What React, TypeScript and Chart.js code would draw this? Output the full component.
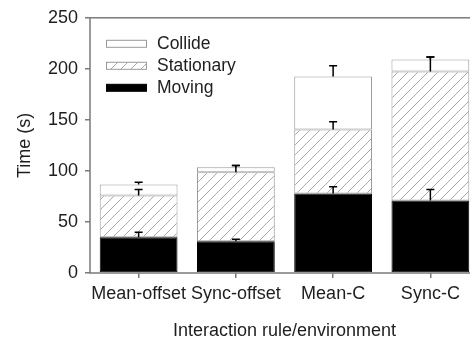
import React, { useEffect, useRef } from "react";
import { Chart, registerables } from "chart.js";

Chart.register(...registerables);

const categories = ["Mean-offset", "Sync-offset", "Mean-C", "Sync-C"];
const moving = [35, 31, 78, 71];
const movingErr = [4.8, 2, 6.4, 10.7];
const stationary = [41, 67.8, 62.6, 126.3];
const stationaryErr = [5.8, 6.5, 7.5, 14.2];
const collide = [10.6, 4.9, 52, 11.9];
const collideErr = [2.3, 1.5, 10.4, 2.3];
const yTicks = [0, 50, 100, 150, 200, 250];
const legendLabels = ["Collide", "Stationary", "Moving"];
const xTitle = "Interaction rule/environment";
const yTitle = "Time (s)";

const FONT = "'Liberation Sans', Arial, Helvetica, sans-serif";
const AXIS = "#7a7a7a";
const TEXT = "#1e1e1e";
const OUTLINE = "#9a9a9a";

function makeHatch(): CanvasPattern | string {
  const s = 10;
  const c = document.createElement("canvas");
  c.width = s;
  c.height = s;
  const g = c.getContext("2d");
  if (!g) return "#ddd";
  g.fillStyle = "#fff";
  g.fillRect(0, 0, s, s);
  g.strokeStyle = "#a8a8a8";
  g.lineWidth = 1;
  g.beginPath();
  g.moveTo(0, s);
  g.lineTo(s, 0);
  g.moveTo(-2, 2);
  g.lineTo(2, -2);
  g.moveTo(s - 2, s + 2);
  g.lineTo(s + 2, s - 2);
  g.stroke();
  return g.createPattern(c, "repeat") || "#ddd";
}

export default function App() {
  const ref = useRef<HTMLCanvasElement | null>(null);

  useEffect(() => {
    if (!ref.current) return;
    const hatch = makeHatch();
    const series = [moving, stationary, collide];
    const errs = [movingErr, stationaryErr, collideErr];
    const fills = ["#000", hatch, "#fff"];

    const framePlugin = {
      id: "frame",
      afterDatasetsDraw(chart: any) {
        const { ctx, chartArea: a } = chart;
        ctx.save();
        ctx.strokeStyle = AXIS;
        ctx.lineWidth = 1.5;
        ctx.strokeRect(a.left, a.top, a.right - a.left, a.bottom - a.top);
        ctx.restore();
      },
    };

    const errorPlugin = {
      id: "errbars",
      afterDatasetsDraw(chart: any) {
        const { ctx } = chart;
        const ys = chart.scales.y;
        ctx.save();
        ctx.strokeStyle = "#000";
        ctx.lineWidth = 1.5;
        series.forEach((_s, di) => {
          const meta = chart.getDatasetMeta(di);
          meta.data.forEach((bar: any, j: number) => {
            let cum = 0;
            for (let k = 0; k <= di; k++) cum += series[k][j];
            const yTop = ys.getPixelForValue(cum);
            const yE = ys.getPixelForValue(cum + errs[di][j]);
            const x = bar.x;
            ctx.beginPath();
            ctx.moveTo(x, yTop);
            ctx.lineTo(x, yE);
            ctx.moveTo(x - 4, yE);
            ctx.lineTo(x + 4, yE);
            ctx.stroke();
          });
        });
        ctx.restore();
      },
    };

    const legendPlugin = {
      id: "innerLegend",
      afterDraw(chart: any) {
        const { ctx, chartArea: a } = chart;
        const legendFills = [fills[2], fills[1], fills[0]];
        ctx.save();
        legendLabels.forEach((lab, i) => {
          const cy = a.top + 26 + i * 22;
          const bx = a.left + 16;
          ctx.fillStyle = legendFills[i] as any;
          ctx.fillRect(bx, cy - 3.5, 40, 7);
          ctx.strokeStyle = i === 2 ? "#000" : OUTLINE;
          ctx.lineWidth = 1;
          ctx.strokeRect(bx + 0.5, cy - 3.5, 40, 7);
          ctx.fillStyle = TEXT;
          ctx.font = `17.5px ${FONT}`;
          ctx.textBaseline = "middle";
          ctx.textAlign = "left";
          ctx.fillText(lab, bx + 51, cy);
        });
        ctx.restore();
      },
    };

    const chart = new Chart(ref.current, {
      type: "bar",
      data: {
        labels: categories,
        datasets: [
          {
            label: "Moving",
            data: moving,
            backgroundColor: fills[0] as any,
            borderColor: "#000",
            borderWidth: 1,
            borderSkipped: false,
            categoryPercentage: 1,
            barPercentage: 0.8,
          },
          {
            label: "Stationary",
            data: stationary,
            backgroundColor: fills[1] as any,
            borderColor: OUTLINE,
            borderWidth: 1,
            borderSkipped: false,
            categoryPercentage: 1,
            barPercentage: 0.8,
          },
          {
            label: "Collide",
            data: collide,
            backgroundColor: fills[2] as any,
            borderColor: OUTLINE,
            borderWidth: 1,
            borderSkipped: false,
            categoryPercentage: 1,
            barPercentage: 0.8,
          },
        ],
      },
      options: {
        responsive: false,
        animation: false,
        layout: { padding: { top: 15, right: 11, bottom: 0, left: 0 } },
        plugins: {
          legend: { display: false },
          tooltip: { enabled: false },
        },
        scales: {
          x: {
            stacked: true,
            grid: {
              display: true,
              drawOnChartArea: false,
              drawTicks: true,
              tickLength: 5,
              color: AXIS,
              offset: false,
              lineWidth: 1.5,
            },
            border: { display: false },
            ticks: {
              font: { family: FONT, size: 18 },
              color: TEXT,
              padding: 5,
              maxRotation: 0,
              autoSkip: false,
            },
            title: {
              display: true,
              text: xTitle,
              font: { family: FONT, size: 18 },
              color: TEXT,
              padding: { top: 0, bottom: 0 },
            },
            afterFit: (s: any) => {
              s.height = 69;
            },
          },
          y: {
            stacked: true,
            min: 0,
            max: 250,
            afterBuildTicks: (s: any) => {
              s.ticks = yTicks.map((v) => ({ value: v }));
            },
            grid: {
              drawOnChartArea: false,
              drawTicks: true,
              tickLength: 5,
              color: AXIS,
              lineWidth: 1.5,
            },
            border: { display: false },
            ticks: {
              font: { family: FONT, size: 18 },
              color: TEXT,
              padding: 7,
            },
            title: {
              display: true,
              text: yTitle,
              font: { family: FONT, size: 18 },
              color: TEXT,
              padding: { top: 14, bottom: 0 },
            },
            afterFit: (s: any) => {
              s.width = 90;
            },
          },
        },
      },
      plugins: [framePlugin, errorPlugin, legendPlugin],
    });

    return () => chart.destroy();
  }, []);

  return (
    <div
      style={{
        position: "fixed",
        left: 0,
        top: 0,
        width: 470,
        height: 342,
        overflow: "hidden",
        background: "#fff",
      }}
    >
      <canvas ref={ref} width={490} height={342} style={{ display: "block" }} />
    </div>
  );
}
